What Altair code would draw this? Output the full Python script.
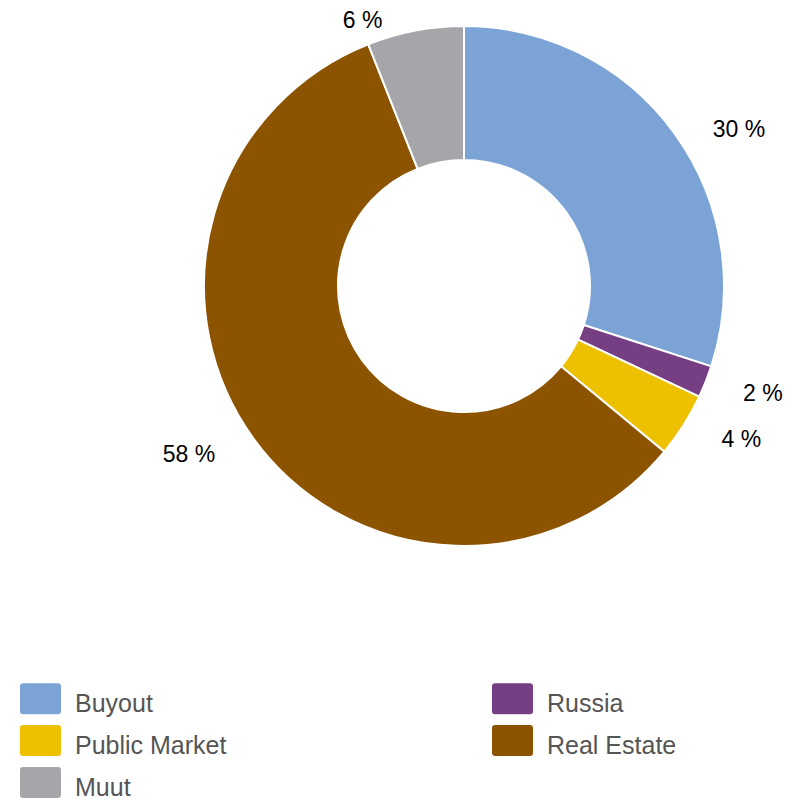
import altair as alt
import pandas as pd

# Portfolio allocation (%)
categories = ["Buyout", "Russia", "Public Market", "Real Estate", "Muut"]
shares = [30, 2, 4, 58, 6]
colors = ["#7BA3D6", "#763F84", "#EDC100", "#8C5400", "#A5A5AA"]

df = pd.DataFrame({"category": categories, "share": shares, "idx": list(range(len(categories)))})

CX, CY = 464, 286
R_OUT, R_IN = 260, 126
R_ANCHOR, R_EDGE = 276, 297   # label anchor radius / label edge radius
TEXT_DY = 6.5

# legend fills column by column: list items so that rows read in data order
n_cols = 2
legend_order = [categories[i] for c in range(n_cols) for i in range(c, len(categories), n_cols)]
color_map = dict(zip(categories, colors))

# rounded rectangle legend swatch in the [-1, 1] unit box, sitting slightly above the label line
swatch = ("M-0.85,-1.0 L0.85,-1.0 Q1,-1.0 1,-0.854 L1,0.366 Q1,0.512 0.85,0.512 "
          "L-0.85,0.512 Q-1,0.512 -1,0.366 L-1,-0.854 Q-1,-1.0 -0.85,-1.0 Z")

color_scale = alt.Scale(domain=legend_order, range=[color_map[c] for c in legend_order])

donut = alt.Chart(df).mark_arc(
    outerRadius=R_OUT, innerRadius=R_IN, stroke="white", strokeWidth=2
).encode(
    theta=alt.Theta("share:Q", stack=True),
    order=alt.Order("idx:Q"),
    color=alt.Color(
        "category:N", scale=color_scale, sort=legend_order,
        legend=alt.Legend(
            title=None, orient="none", legendX=20, legendY=683, columns=n_cols,
            columnPadding=265, rowPadding=8, symbolType=swatch, symbolSize=1681,
            symbolStrokeWidth=0, symbolOpacity=1, labelOffset=14,
            labelFont="Liberation Sans", labelFontSize=25, labelColor="#555555",
            labelLimit=400, padding=0,
        ),
    ),
    x=alt.value(CX),
    y=alt.value(CY),
)

base_labels = alt.Chart(df).transform_window(
    cum="sum(share)", sort=[alt.SortField("idx")]
).transform_joinaggregate(
    total="sum(share)"
).transform_calculate(
    mid="(datum.cum - datum.share / 2) / datum.total * 2 * PI",
    ay=f"{CY} - {R_ANCHOR} * cos(datum.mid)",
    ty=f"datum.ay + {TEXT_DY}",
    dx=f"sqrt(max({R_EDGE} * {R_EDGE} - (datum.ay - {CY}) * (datum.ay - {CY}), 0))",
    side="sin(datum.mid) > 0.25 ? 1 : (sin(datum.mid) < -0.25 ? -1 : 0)",
    lx=f"{CX} + (datum.side == 0 ? (sin(datum.mid) < 0 ? -1 : 1) : datum.side) * datum.dx",
    txt="datum.share + ' %'",
)

def label_layer(side, align):
    return base_labels.transform_filter(f"datum.side == {side}").mark_text(
        font="Liberation Sans", fontSize=23, color="#000000", align=align, baseline="middle"
    ).encode(
        x=alt.X("lx:Q", scale=None),
        y=alt.Y("ty:Q", scale=None),
        text="txt:N",
    )

# right-hand labels start at the anchor, left-hand ones end there; labels near the top start there
labels = label_layer(1, "left") + label_layer(-1, "right") + label_layer(0, "left")

chart = alt.layer(donut, labels).properties(
    width=797, height=802, autosize=alt.AutoSizeParams(type="none"), padding=0
).configure_view(stroke=None)

chart.save("out.html", embed_options={"renderer": "svg", "actions": False})
